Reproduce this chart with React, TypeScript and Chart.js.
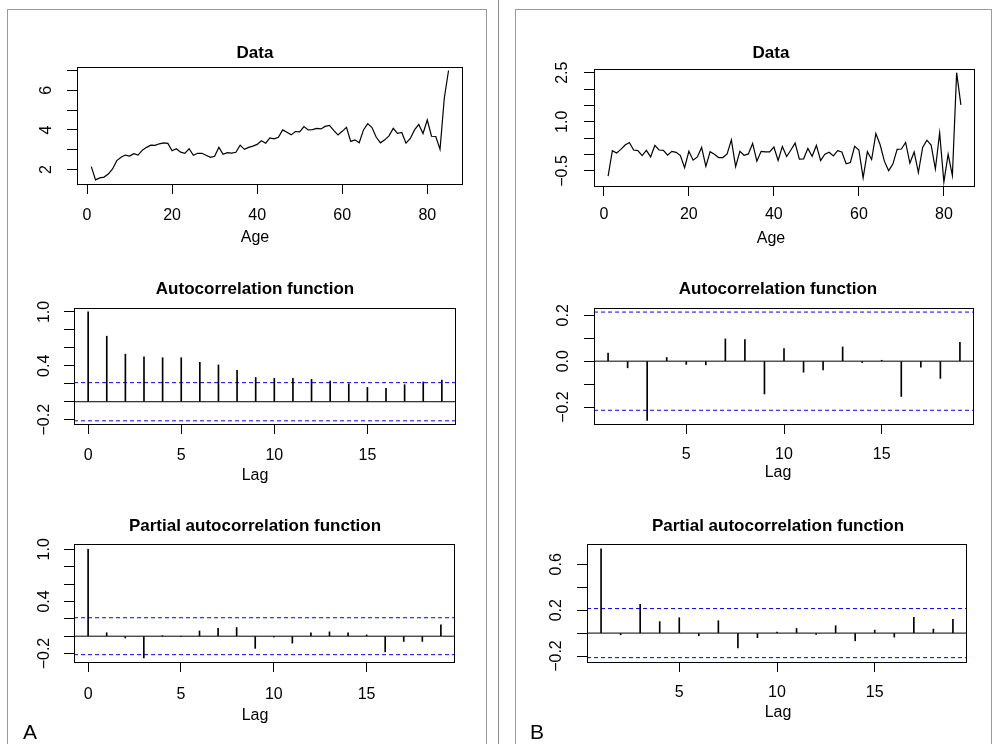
import React, { useEffect, useRef } from "react";
import { Chart, registerables } from "chart.js";
Chart.register(...registerables);

const FONT = "'Liberation Sans', Arial, Helvetica, sans-serif";
const MINUS = "\u2212";

// ---------- Panel A data ----------
const seriesA = [
  2.15, 1.48, 1.58, 1.62, 1.77, 2.03, 2.45, 2.62, 2.73, 2.68,
  2.8, 2.73, 2.98, 3.12, 3.23, 3.22, 3.3, 3.35, 3.32, 2.95,
  3.05, 2.88, 2.82, 3.05, 2.72, 2.82, 2.82, 2.72, 2.62, 2.67,
  3.12, 2.77, 2.85, 2.83, 2.87, 3.23, 3.02, 3.12, 3.18, 3.27,
  3.45, 3.33, 3.6, 3.55, 3.63, 4.0, 3.88, 3.75, 3.92, 3.9,
  4.17, 4.0, 4.02, 4.08, 4.05, 4.18, 4.23, 3.98, 3.75, 3.93,
  4.13, 3.42, 3.5, 3.35, 4.0, 4.32, 4.12, 3.63, 3.35, 3.5,
  3.7, 4.08, 3.83, 3.87, 3.33, 3.57, 4.0, 4.28, 3.82, 4.5,
  3.68, 3.67, 3.02, 5.6, 7.0,
];
const lagsA = [0, 1, 2, 3, 4, 5, 6, 7, 8, 9, 10, 11, 12, 13, 14, 15, 16, 17, 18, 19];
const acfA = [1.0, 0.73, 0.53, 0.5, 0.49, 0.49, 0.44, 0.41, 0.35, 0.27, 0.26, 0.26, 0.25, 0.23, 0.2, 0.16, 0.15, 0.19, 0.22, 0.24];
const pacfA = [1.0, 0.04, -0.02, -0.25, 0.003, -0.004, 0.06, 0.09, 0.1, -0.14, -0.01, -0.08, 0.04, 0.05, 0.04, 0.015, -0.18, -0.06, -0.06, 0.13];
const confA = 0.2126;

// ---------- Panel B data ----------
const seriesB = [
  -0.66, 0.12, 0.05, 0.16, 0.29, 0.37, 0.14, 0.12, -0.03, 0.13,
  -0.07, 0.28, 0.14, 0.13, -0.02, 0.1, 0.07, -0.03, -0.4, 0.1,
  -0.17, -0.07, 0.22, -0.36, 0.09, 0.01, -0.09, -0.09, 0.02, 0.45,
  -0.37, 0.1, -0.02, 0.02, 0.34, -0.2, 0.1, 0.08, 0.08, 0.23,
  -0.18, 0.25, -0.06, 0.14, 0.35, -0.14, -0.13, 0.19, -0.05, 0.28,
  -0.18, 0.01, 0.07, -0.04, 0.12, 0.08, -0.28, -0.24, 0.25, 0.14,
  -0.71, 0.09, -0.15, 0.64, 0.3, -0.2, -0.49, -0.29, 0.16, 0.17,
  0.37, -0.26, 0.08, -0.55, 0.22, 0.44, 0.29, -0.44, 0.66, -0.84,
  0.01, -0.64, 2.5, 1.52,
];
const lagsB = [1, 2, 3, 4, 5, 6, 7, 8, 9, 10, 11, 12, 13, 14, 15, 16, 17, 18, 19];
const acfB = [0.035, -0.029, -0.258, 0.016, -0.014, -0.016, 0.097, 0.094, -0.143, 0.055, -0.048, -0.038, 0.062, -0.006, 0.004, -0.154, -0.026, -0.075, 0.082];
const pacfB = [0.735, -0.015, 0.25, 0.1, 0.134, -0.023, 0.108, -0.13, -0.04, 0.009, 0.04, -0.012, 0.064, -0.067, 0.026, -0.035, 0.137, 0.035, 0.12];
const confB = 0.2139;

// ---------- ticks ----------
const ageTicks = [0, 20, 40, 60, 80];
const lagTicksA = [0, 5, 10, 15];
const lagTicksB = [5, 10, 15];
const yTicksDataA = [2, 3, 4, 5, 6, 7];
const yLabelsDataA = ["2", "", "4", "", "6", ""];
const yTicksCorrA = [-0.2, 0, 0.2, 0.4, 0.6, 0.8, 1.0];
const yLabelsCorrA = [MINUS + "0.2", "", "", "0.4", "", "", "1.0"];
const yTicksDataB = [-0.5, 0, 0.5, 1, 1.5, 2, 2.5];
const yLabelsDataB = [MINUS + "0.5", "", "", "1.0", "", "", "2.5"];
const yTicksAcfB = [-0.2, -0.1, 0, 0.1, 0.2];
const yLabelsAcfB = [MINUS + "0.2", "", "0.0", "", "0.2"];
const yTicksPacfB = [-0.2, 0, 0.2, 0.4, 0.6];
const yLabelsPacfB = [MINUS + "0.2", "", "0.2", "", "0.6"];

// ---------- axis ranges ----------
const xRangeDataA = [-2.36, 88.4];
const yRangeDataA = [1.27, 7.17];
const xRangeLagA = [-0.76, 19.76];
const yRangeAcfA = [-0.248, 1.044];
const yRangePacfA = [-0.297, 1.061];
const xRangeDataB = [-2.32, 87.32];
const yRangeDataB = [-0.959, 2.613];
const xRangeLagB = [0.28, 19.72];
const yRangeAcfB = [-0.2737, 0.2316];
const yRangePacfB = [-0.252, 0.777];

// ---------- layout specs (page pixels) ----------
type Spec = { L: number; R: number; T: number; B: number; titleC: number; tickC: number; xlabC: number; yLabX: number; cX: number };
const specs: Record<string, Spec> = {
  aData: { L: 77, R: 463, T: 66, B: 184, titleC: 52.5, tickC: 215.8, xlabC: 237, yLabX: 47, cX: 255 },
  aAcf: { L: 74, R: 456, T: 308, B: 424, titleC: 289.7, tickC: 455.2, xlabC: 475.2, yLabX: 45, cX: 255 },
  aPacf: { L: 74, R: 455, T: 544, B: 662, titleC: 526.7, tickC: 694.2, xlabC: 715, yLabX: 45, cX: 255 },
  bData: { L: 594, R: 975, T: 69, B: 186, titleC: 53.2, tickC: 215, xlabC: 238.7, yLabX: 563, cX: 771 },
  bAcf: { L: 594, R: 974, T: 308, B: 424, titleC: 289.7, tickC: 455, xlabC: 472.2, yLabX: 563.3, cX: 778 },
  bPacf: { L: 587, R: 967, T: 544, B: 662, titleC: 526.7, tickC: 692.5, xlabC: 712.5, yLabX: 556.7, cX: 778 },
};

const rBox = {
  id: "rBox",
  afterDraw(chart: any) {
    const { ctx, chartArea: a } = chart;
    ctx.save();
    ctx.strokeStyle = "#000";
    ctx.lineWidth = 1;
    ctx.strokeRect(Math.round(a.left) + 0.5, Math.round(a.top) + 0.5, Math.round(a.right - a.left) - 1, Math.round(a.bottom - a.top));
    ctx.restore();
  },
};

function lineSeries(values: number[]) {
  return [{
    type: "line",
    data: values.map((v, i) => ({ x: i + 1, y: v })),
    borderColor: "#000",
    borderWidth: 1.2,
    pointRadius: 0,
    tension: 0,
    fill: false,
  }];
}

function corrSeries(lags: number[], values: number[], conf: number, xr: number[]) {
  return [
    {
      type: "bar",
      data: lags.map((l, i) => ({ x: l, y: values[i] })),
      backgroundColor: "#000",
      borderWidth: 0,
      barThickness: 1,
    },
    {
      type: "line",
      data: [{ x: xr[0], y: 0 }, { x: xr[1], y: 0 }],
      borderColor: "#000",
      borderWidth: 1,
      pointRadius: 0,
      fill: false,
    },
    {
      type: "line",
      data: [{ x: xr[0], y: conf }, { x: xr[1], y: conf }],
      borderColor: "#0000ff",
      borderWidth: 1,
      borderDash: [4, 3],
      pointRadius: 0,
      fill: false,
    },
    {
      type: "line",
      data: [{ x: xr[0], y: -conf }, { x: xr[1], y: -conf }],
      borderColor: "#0000ff",
      borderWidth: 1,
      borderDash: [4, 3],
      pointRadius: 0,
      fill: false,
    },
  ];
}

type PanelProps = {
  spec: Spec;
  type: "line" | "bar";
  title: string;
  xlab: string;
  datasets: any[];
  xRange: number[];
  yRange: number[];
  xTicks: number[];
  yTicks: number[];
  yLabels: string[];
};

function Panel(p: PanelProps) {
  const ref = useRef<HTMLCanvasElement>(null);
  const s = p.spec;
  const cx = Math.floor(s.yLabX - 24);
  const cw = Math.round(2 * (s.cX - cx));
  const cy = Math.floor(s.titleC - 10.2);
  const ch = Math.round(s.xlabC + 9.6 - cy);

  useEffect(() => {
    const meas = document.createElement("canvas").getContext("2d")!;
    meas.font = `16px ${FONT}`;
    const widest = Math.max(...p.yLabels.map((l) => meas.measureText(l).width));
    const yPad = s.L - 10 - widest / 2 - s.yLabX;
    const xPad = s.tickC - s.B - 10 - 9.6;
    const pt = Math.max(0, s.titleC - 10.2 - cy);
    const pb = s.T - cy - 20.4 - pt;
    const hx = ch - 19.2 - (s.B - cy);
    const yw = s.L - cx;
    const y2w = cx + cw - s.R;
    const tickFont = { family: FONT, size: 16 };
    const gridOpts = { display: true, drawOnChartArea: false, drawTicks: true, tickLength: 10, color: "#000", lineWidth: 1, offset: false };

    const chart = new Chart(ref.current as HTMLCanvasElement, {
      type: p.type,
      data: { datasets: p.datasets },
      options: {
        responsive: false,
        maintainAspectRatio: false,
        animation: false,
        events: [],
        layout: { padding: 0, autoPadding: false },
        plugins: {
          legend: { display: false },
          tooltip: { enabled: false },
          title: {
            display: true,
            text: p.title,
            color: "#000",
            font: { family: FONT, size: 17, weight: "bold" },
            padding: { top: pt, bottom: pb },
          },
          subtitle: {
            display: true,
            text: p.xlab,
            position: "bottom",
            color: "#000",
            font: tickFont,
            padding: 0,
          },
        },
        scales: {
          x: {
            type: "linear",
            min: p.xRange[0],
            max: p.xRange[1],
            offset: false,
            afterBuildTicks: (sc: any) => { sc.ticks = p.xTicks.map((v) => ({ value: v })); },
            ticks: { autoSkip: false, minRotation: 0, maxRotation: 0, padding: xPad, color: "#000", font: tickFont, callback: (v: any) => String(v) },
            grid: gridOpts,
            border: { display: false },
            afterFit: (sc: any) => { sc.height = hx; },
          },
          y: {
            type: "linear",
            position: "left",
            min: p.yRange[0],
            max: p.yRange[1],
            afterBuildTicks: (sc: any) => { sc.ticks = p.yTicks.map((v) => ({ value: v })); },
            ticks: { autoSkip: false, minRotation: 90, maxRotation: 90, crossAlign: "center", padding: yPad, color: "#000", font: tickFont, callback: (_v: any, i: number) => p.yLabels[i] },
            grid: gridOpts,
            border: { display: false },
            afterFit: (sc: any) => { sc.width = yw; },
          },
          y2: {
            type: "linear",
            position: "right",
            display: true,
            grid: { display: false },
            ticks: { display: false },
            border: { display: false },
            afterFit: (sc: any) => { sc.width = y2w; },
          },
        },
      } as any,
      plugins: [rBox],
    } as any);
    return () => chart.destroy();
  }, []);

  return (
    <canvas
      ref={ref}
      width={cw}
      height={ch}
      style={{ position: "absolute", left: cx, top: cy, width: cw, height: ch }}
    />
  );
}

export default function App() {
  const letter: React.CSSProperties = { position: "absolute", fontFamily: FONT, fontSize: 21, lineHeight: "21px", color: "#000" };
  return (
    <div style={{ position: "absolute", left: 0, top: 0, width: 994, height: 744, overflow: "hidden", background: "#fff" }}>
      <div style={{ position: "absolute", left: 7, top: 9, width: 480, height: 800, border: "1px solid #9a9a9a", boxSizing: "border-box" }} />
      <div style={{ position: "absolute", left: 498, top: 0, width: 1, height: 744, background: "#8a8a8a" }} />
      <div style={{ position: "absolute", left: 515, top: 9, width: 477, height: 800, border: "1px solid #9a9a9a", boxSizing: "border-box" }} />

      <Panel spec={specs.aData} type="line" title="Data" xlab="Age" datasets={lineSeries(seriesA)}
        xRange={xRangeDataA} yRange={yRangeDataA} xTicks={ageTicks} yTicks={yTicksDataA} yLabels={yLabelsDataA} />
      <Panel spec={specs.aAcf} type="bar" title="Autocorrelation function" xlab="Lag" datasets={corrSeries(lagsA, acfA, confA, xRangeLagA)}
        xRange={xRangeLagA} yRange={yRangeAcfA} xTicks={lagTicksA} yTicks={yTicksCorrA} yLabels={yLabelsCorrA} />
      <Panel spec={specs.aPacf} type="bar" title="Partial autocorrelation function" xlab="Lag" datasets={corrSeries(lagsA, pacfA, confA, xRangeLagA)}
        xRange={xRangeLagA} yRange={yRangePacfA} xTicks={lagTicksA} yTicks={yTicksCorrA} yLabels={yLabelsCorrA} />

      <Panel spec={specs.bData} type="line" title="Data" xlab="Age" datasets={lineSeries(seriesB)}
        xRange={xRangeDataB} yRange={yRangeDataB} xTicks={ageTicks} yTicks={yTicksDataB} yLabels={yLabelsDataB} />
      <Panel spec={specs.bAcf} type="bar" title="Autocorrelation function" xlab="Lag" datasets={corrSeries(lagsB, acfB, confB, xRangeLagB)}
        xRange={xRangeLagB} yRange={yRangeAcfB} xTicks={lagTicksB} yTicks={yTicksAcfB} yLabels={yLabelsAcfB} />
      <Panel spec={specs.bPacf} type="bar" title="Partial autocorrelation function" xlab="Lag" datasets={corrSeries(lagsB, pacfB, confB, xRangeLagB)}
        xRange={xRangeLagB} yRange={yRangePacfB} xTicks={lagTicksB} yTicks={yTicksPacfB} yLabels={yLabelsPacfB} />

      <div style={{ ...letter, left: 23, top: 721 }}>A</div>
      <div style={{ ...letter, left: 530, top: 721 }}>B</div>
    </div>
  );
}
